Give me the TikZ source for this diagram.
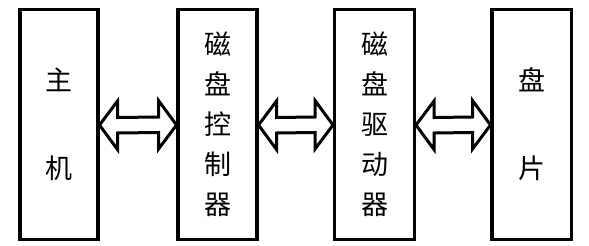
\documentclass[tikz,border=0pt]{standalone}
\usepackage{fontspec}
\newfontfamily\cjk{Noto Sans CJK SC}
\usetikzlibrary{calc}
\begin{document}
\begin{tikzpicture}[x=1pt,y=-1pt,
  box/.style={draw,line width=3.2pt,minimum height=230pt,inner sep=0pt,outer sep=0pt,
    align=center,font=\cjk\fontsize{27pt}{40pt}\selectfont},
  dblarrow/.style={draw,line width=3pt,line join=miter,fill=white}]
\useasboundingbox (0,0) rectangle (589,246);
\node[box,minimum width=78pt] (host) at (59,124.5) {主\\[48pt]机};
\node[box,minimum width=79pt] (ctrl) at (217.5,124.5) {磁\\盘\\控\\制\\器};
\node[box,minimum width=80pt] (drv) at (374.5,124.5) {磁\\盘\\驱\\动\\器};
\node[box,minimum width=79.5pt] (plt) at (531.75,124.5) {盘\\[48pt]片};
\foreach \a/\b in {host/ctrl,drv/plt,ctrl/drv}{
  \draw[dblarrow]
    ($(\a.east)+(1.5,0.5)$) -- ++(18,-24) -- ++(0,16.5) coordinate (t1)
    -- ($(\b.west)+(-19.5,-7.5)$) -- ++(0,-16.5) -- ($(\b.west)+(-1.5,0.5)$)
    -- ++(-18,24) -- ++(0,-16.5) -- ($(\a.east)+(19.5,8.5)$) -- ++(0,16.5) -- cycle;
}
\end{tikzpicture}
\end{document}
